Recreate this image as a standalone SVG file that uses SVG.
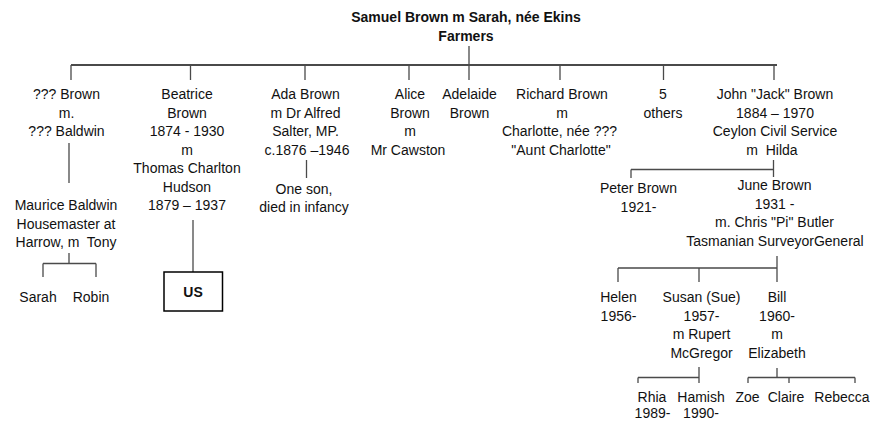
<svg xmlns="http://www.w3.org/2000/svg" width="870" height="421" viewBox="0 0 870 421">
<style>
text{font-family:"Liberation Sans",Arial,sans-serif;font-size:14px;fill:#111;text-anchor:middle;white-space:pre}
.b{font-weight:bold}
.ln{stroke:#4a4a4a;stroke-width:1.3;fill:none}
.main{stroke:#4a4a4a;stroke-width:2;fill:none}
.box{fill:#fff;stroke:#000;stroke-width:1.5}
</style>
<rect width="870" height="421" fill="#fff"/>
<g id="connectors">
<path class="main" d="M71 65H777"/>
<path class="ln" d="M469 46V80M71 65V80M190.5 65V80M305 65V80M409 65V80M560 65V80M663.5 65V80M774 65V80"/>
<path class="ln" d="M69 143V183M69 253V263.5M43 263.5H96M43 263.5V277M96 263.5V277"/>
<path class="ln" d="M193 220V272"/>
<path class="ln" d="M306.5 160V178"/>
<path class="ln" d="M773.5 160V177M631 169.5H773.5M631 169.5V178"/>
<path class="ln" d="M777 256V282M618 268H777M618 268V282M699 268V282"/>
<path class="ln" d="M699 367V383M638 377.5H699M638 377.5V383"/>
<path class="ln" d="M777 368V377.5M748 377.5H855M748 377.5V383M789 377.5V383M855 377.5V383"/>
</g>
<g id="root"><text class="b" x="466" y="21.5">Samuel Brown m Sarah, née Ekins</text><text class="b" x="466" y="40.5">Farmers</text></g>
<g id="brown-baldwin"><text x="66.5" y="99">??? Brown</text><text x="66.5" y="117.5">m.</text><text x="66.5" y="136">??? Baldwin</text></g>
<g id="maurice"><text x="66" y="210">Maurice Baldwin</text><text x="66" y="228.5">Housemaster at</text><text x="66" y="247">Harrow, m  Tony</text></g>
<g id="sarah"><text x="38" y="302">Sarah</text></g>
<g id="robin"><text x="91" y="302">Robin</text></g>
<g id="beatrice"><text x="187" y="99">Beatrice</text><text x="187" y="117.5">Brown</text><text x="187" y="136">1874 - 1930</text><text x="187" y="154.5">m</text><text x="187" y="173">Thomas Charlton</text><text x="187" y="191.5">Hudson</text><text x="187" y="210">1879 – 1937</text></g>
<g id="us"><rect class="box" x="164" y="272" width="58.5" height="39"/><text class="b" x="193" y="296.5">US</text></g>
<g id="ada"><text x="305.5" y="99">Ada Brown</text><text x="305.5" y="117.5">m Dr Alfred</text><text x="305.5" y="136">Salter, MP.</text><text x="307" y="154.5">c.1876 –1946</text></g>
<g id="ada-son"><text x="304" y="193.5">One son,</text><text x="304" y="212">died in infancy</text></g>
<g id="alice"><text x="410" y="99">Alice</text><text x="410" y="117.5">Brown</text><text x="410" y="136">m</text><text x="408" y="154.5">Mr Cawston</text></g>
<g id="adelaide"><text x="469.5" y="99">Adelaide</text><text x="469.5" y="117.5">Brown</text></g>
<g id="richard"><text x="562" y="99">Richard Brown</text><text x="562" y="117.5">m</text><text x="559.5" y="136">Charlotte, née ???</text><text x="561" y="154.5">"Aunt Charlotte"</text></g>
<g id="others"><text x="663" y="99">5</text><text x="663" y="117.5">others</text></g>
<g id="john"><text x="775" y="99">John "Jack" Brown</text><text x="775" y="117.5">1884 – 1970</text><text x="775" y="136">Ceylon Civil Service</text><text x="772" y="154.5">m  Hilda</text></g>
<g id="peter"><text x="638.5" y="193">Peter Brown</text><text x="638.5" y="211.5">1921-</text></g>
<g id="june"><text x="774.5" y="190">June Brown</text><text x="774.5" y="208.5">1931 -</text><text x="774.5" y="227">m. Chris "Pi" Butler</text><text x="775" y="245.5">Tasmanian SurveyorGeneral</text></g>
<g id="helen"><text x="618.5" y="302">Helen</text><text x="618.5" y="320.5">1956-</text></g>
<g id="susan"><text x="701.5" y="302">Susan (Sue)</text><text x="701.5" y="320.5">1957-</text><text x="701.5" y="339">m Rupert</text><text x="701.5" y="357.5">McGregor</text></g>
<g id="bill"><text x="777" y="302">Bill</text><text x="777" y="320.5">1960-</text><text x="777" y="339">m</text><text x="777" y="357.5">Elizabeth</text></g>
<g id="rhia"><text x="652" y="401.5">Rhia</text><text x="652.5" y="417.5">1989-</text></g>
<g id="hamish"><text x="701" y="401.5">Hamish</text><text x="701" y="417.5">1990-</text></g>
<g id="zoe"><text x="747.5" y="401.5">Zoe</text></g>
<g id="claire"><text x="786" y="401.5">Claire</text></g>
<g id="rebecca"><text x="842" y="401.5">Rebecca</text></g>
</svg>
